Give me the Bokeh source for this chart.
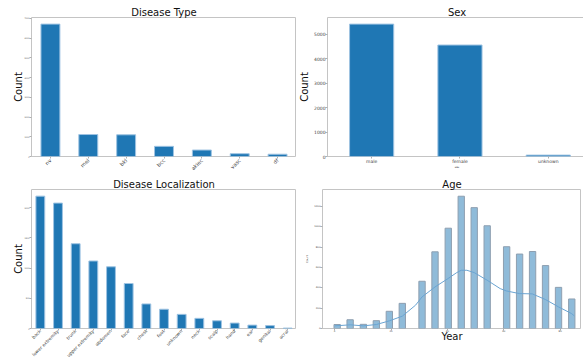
import math
from bokeh.plotting import figure
from bokeh.layouts import column, row
from bokeh.models import Range1d, FixedTicker
from bokeh.embed import file_html
from bokeh.resources import INLINE

# ---------------- data ----------------
dx_labels = ["nv", "mel", "bkl", "bcc", "akiec", "vasc", "df"]
dx_counts = [6705, 1113, 1099, 514, 327, 142, 115]
dx_yticks = [0, 1000, 2000, 3000, 4000, 5000, 6000, 7000]

sex_labels = ["male", "female", "unknown"]
sex_counts = [5406, 4552, 57]
sex_yticks = [0, 1000, 2000, 3000, 4000, 5000]

loc_labels = ["back", "lower extremity", "trunk", "upper extremity", "abdomen",
              "face", "chest", "foot", "unknown", "neck", "scalp", "hand",
              "ear", "genital", "acral"]
loc_counts = [2192, 2077, 1404, 1118, 1022, 745, 407, 319, 234, 168, 128, 90,
              56, 48, 7]
loc_yticks = [0, 500, 1000, 1500, 2000]

age_bin_centers = [0.9, 5.5, 10.2, 14.8, 19.4, 24.0, 31.0, 35.6, 40.3, 44.9,
                   49.5, 54.1, 61.0, 65.6, 70.2, 74.8, 79.4, 84.1]
age_counts = [39, 86, 41, 77, 169, 247, 464, 753, 985, 1299, 1187, 1009, 803,
              731, 756, 618, 404, 290]
kde_x = [0.06, 5.6, 10.2, 14.8, 19.4, 24.0, 28.7, 31.0, 35.6, 40.2, 43.3, 44.9,
         46.9, 49.5, 54.1, 58.7, 60.9, 65.5, 70.1, 74.8, 79.4, 84.0, 85.0]
kde_y = [26, 36, 26, 39, 75, 121, 229, 310, 408, 490, 549, 572, 572, 549, 474,
         392, 369, 343, 340, 284, 212, 147, 124]
age_xticks = [0, 20, 40, 60, 80]
age_yticks = [0, 200, 400, 600, 800, 1000, 1200]

FONT = "DejaVu Sans"
BLUE = "#1f77b4"


def base(fw, fh, xr, yr, mbl, mbr, mbt, mbb, title, toff=0):
    p = figure(frame_width=fw, frame_height=fh, x_range=xr, y_range=yr,
               min_border_left=mbl, min_border_right=mbr,
               min_border_top=mbt, min_border_bottom=mbb,
               output_backend="svg", toolbar_location=None, tools="",
               title=title)
    p.title.align = "center"
    p.title.text_font = FONT
    p.title.text_font_size = "10px"
    p.title.text_font_style = "normal"
    p.title.text_color = "#111111"
    p.title.standoff = 0
    p.title.offset = toff
    p.outline_line_color = "#c4c4c4"
    p.outline_line_width = 1
    p.xgrid.visible = False
    p.ygrid.visible = False
    p.background_fill_color = "white"
    p.border_fill_color = "white"
    for ax in (p.xaxis, p.yaxis):
        ax.axis_line_color = None
        ax.major_tick_line_color = "#b0b0b0"
        ax.major_tick_in = 0
        ax.major_tick_out = 2
        ax.minor_tick_line_color = None
        ax.major_label_text_color = "#444444"
        ax.major_label_text_font = FONT
        ax.axis_label_text_font = FONT
        ax.axis_label_text_font_style = "normal"
        ax.axis_label_text_color = "#111111"
        ax.major_label_standoff = 0
    return p


def ylabel(p, text, size, standoff):
    p.yaxis.axis_label = text
    p.yaxis.axis_label_text_font_size = size
    p.yaxis.axis_label_standoff = standoff


FH = 139

# ---------- Disease Type ----------
p1 = base(265, FH, Range1d(-0.5, 6.5), Range1d(0, 7040), 31, 0, 17, 20,
          "Disease Type")
p1.vbar(x=list(range(len(dx_labels))), top=dx_counts, width=0.5,
        fill_color=BLUE, line_color="#9ec3e2", line_width=1)
p1.xaxis.ticker = FixedTicker(ticks=list(range(len(dx_labels))))
p1.xaxis.major_label_overrides = {i: s for i, s in enumerate(dx_labels)}
p1.xaxis.major_label_orientation = math.pi / 4
p1.xaxis.major_label_text_font_size = "5.2px"
p1.xaxis.major_label_standoff = 1
p1.yaxis.ticker = FixedTicker(ticks=dx_yticks)
p1.yaxis.major_label_text_font_size = "2px"
ylabel(p1, "Count", "10px", -3)

# ---------- Sex ----------
p2 = base(259, FH, Range1d(-0.5, 2.433), Range1d(0, 5676), 26, 0, 17, 20,
          "Sex", 3)
p2.vbar(x=list(range(len(sex_labels))), top=sex_counts, width=0.5,
        fill_color=BLUE, line_color="#9ec3e2", line_width=1)
p2.xaxis.ticker = FixedTicker(ticks=list(range(len(sex_labels))))
p2.xaxis.major_label_overrides = {i: s for i, s in enumerate(sex_labels)}
p2.xaxis.major_label_text_font_size = "4.5px"
p2.xaxis.axis_label = "sex"
p2.xaxis.axis_label_text_font_size = "2.5px"
p2.xaxis.axis_label_standoff = 0
p2.yaxis.ticker = FixedTicker(ticks=sex_yticks)
p2.yaxis.major_label_text_font_size = "4.5px"
ylabel(p2, "Count", "10px", 1)

# ---------- Disease Localization ----------
p3 = base(265, FH, Range1d(-0.5, 14.5), Range1d(0, 2302), 31, 0, 9, 31,
          "Disease Localization")
p3.vbar(x=list(range(len(loc_labels))), top=loc_counts, width=0.5,
        fill_color=BLUE, line_color="#9ec3e2", line_width=1)
p3.xaxis.ticker = FixedTicker(ticks=list(range(len(loc_labels))))
p3.xaxis.major_label_overrides = {i: s for i, s in enumerate(loc_labels)}
p3.xaxis.major_label_orientation = math.pi / 4
p3.xaxis.major_label_text_font_size = "4.5px"
p3.yaxis.ticker = FixedTicker(ticks=loc_yticks)
p3.yaxis.major_label_text_font_size = "2px"
ylabel(p3, "Count", "10px", -3)

# ---------- Age ----------
p4 = base(259, FH, Range1d(-4.3, 87.55), Range1d(0, 1365), 26, 0, 9, 31,
          "Age", 3)
p4.vbar(x=age_bin_centers, top=age_counts, width=2.25,
        fill_color="#8fbbd9", line_color="#8e9fb0", line_width=1)
p4.line(kde_x, kde_y, line_color="#6aa4d2", line_width=1)
p4.xaxis.ticker = FixedTicker(ticks=age_xticks)
p4.xaxis.major_label_text_font_size = "2.5px"
p4.yaxis.ticker = FixedTicker(ticks=age_yticks)
p4.yaxis.major_label_text_font_size = "2.5px"
ylabel(p4, "Count", "2.5px", 2)
p4.xaxis.axis_label = "Year"
p4.xaxis.axis_label_text_font_size = "10px"
p4.xaxis.axis_label_standoff = -5

layout = column(row(p1, p2), row(p3, p4))

open("out.html", "w").write(file_html(layout, INLINE))
